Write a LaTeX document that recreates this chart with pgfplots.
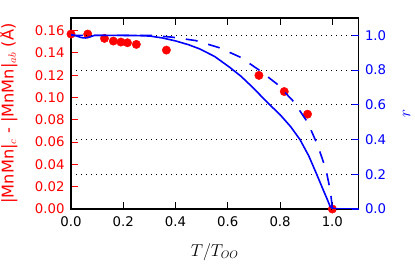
\documentclass[border=0pt]{standalone}
\usepackage{fontspec}
\setmainfont{DejaVu Sans}
\usepackage{pgfplots}
\pgfplotsset{compat=1.18}
\pgfplotstableread{
x y
0 0.157
0.064 0.157
0.128 0.1531
0.162 0.1507
0.191 0.1498
0.216 0.1492
0.25 0.1477
0.365 0.1426
0.719 0.1199
0.816 0.1054
0.905 0.0851
1.0 0.0
}\dist
\pgfplotstableread{
x r
0 1.005
0.02 0.997
0.04 0.987
0.055 0.985
0.07 0.99
0.09 1.0
0.15 1.0
0.25 0.999
0.302 0.996
0.35 0.985
0.40 0.968
0.45 0.946
0.494 0.921
0.55 0.878
0.608 0.815
0.65 0.765
0.685 0.715
0.72 0.662
0.762 0.598
0.80 0.543
0.84 0.475
0.876 0.40
0.91 0.305
0.94 0.20
0.965 0.11
0.982 0.05
0.991 0.016
1.0 0.004
1.02 0.0
1.1 0
}\rsolid
\pgfplotstableread{
x r
0 1.0
0.3 1.0
0.385 0.99
0.477 0.97
0.565 0.93
0.647 0.875
0.72 0.80
0.788 0.72
0.851 0.62
0.905 0.50
0.943 0.37
0.975 0.23
0.993 0.10
1.0 0.0
}\rdash
\begin{document}
\begin{tikzpicture}
\useasboundingbox (-71bp,-56bp) rectangle (344bp,209bp);
\pgfplotsset{
  common/.style={
    at={(0,0)}, anchor=south west,
    scale only axis, width=287.5bp, height=191bp,
    xmin=0, xmax=1.1, ymin=0,
    tick align=inside, major tick length=7bp,
    every tick/.style={line width=1bp},
    ticklabel style={font=\fontsize{13.3bp}{16bp}\selectfont},
    label style={font=\fontsize{16.2bp}{19bp}\selectfont},
    /pgf/number format/assume math mode=true,
    axis line style={line width=1.3bp, black},
  }
}
\begin{axis}[common,
  ymax=0.1714,
  xtick={0,0.2,0.4,0.6,0.8,1.0},
  xtick pos=both, xticklabel pos=bottom,
  xticklabel style={/pgf/number format/.cd, fixed, fixed zerofill, precision=1, /tikz/.cd, black, yshift=-4.5bp},
  x tick style={black},
  ytick={0,0.02,0.04,0.06,0.08,0.10,0.12,0.14,0.16},
  ytick pos=left,
  y tick style={red},
  yticklabel style={/pgf/number format/.cd, fixed, fixed zerofill, precision=2, /tikz/.cd, red, xshift=-3bp},
  xlabel={$T/T_{OO}$},
  xlabel style={at={(axis description cs:0.5,0)}, anchor=base, yshift=-47bp},
  ylabel={|MnMn|$_c$ - |MnMn|$_{ab}$ (Å)},
  ylabel style={red, at={(axis description cs:-0.219,0.5)}, anchor=center},
]
\addplot[only marks, mark=*, mark size=4.2bp, mark options={draw=red, fill=red}] table {\dist};
\end{axis}
\begin{axis}[common,
  ymax=1.1,
  xtick=\empty,
  axis line style={draw=none},
  ytick={0,0.2,0.4,0.6,0.8,1.0},
  ytick pos=right, yticklabel pos=right,
  y tick style={blue},
  yticklabel style={/pgf/number format/.cd, fixed, fixed zerofill, precision=1, /tikz/.cd, blue, xshift=3bp},
  ymajorgrids,
  major grid style={black, line width=1bp, dash pattern=on 1bp off 4bp},
  ylabel={$r$},
  ylabel style={blue, at={(axis description cs:1.1677,0.5)}, anchor=center},
]
\addplot[blue, line width=1.6bp] table {\rsolid};
\addplot[blue, line width=1.6bp, dash pattern=on 12bp off 11bp] table {\rdash};
\end{axis}
\end{tikzpicture}
\end{document}
